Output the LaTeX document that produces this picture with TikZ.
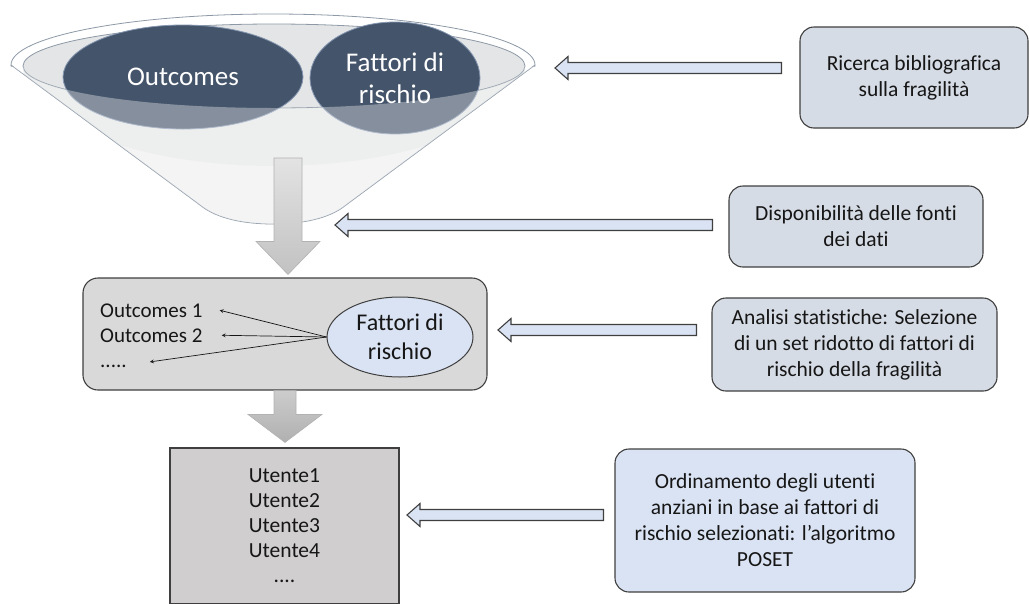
\documentclass[tikz,border=0pt]{standalone}
\usepackage{fontspec}
\setmainfont{Carlito}[Ligatures=NoCommon]
\usepackage{tikz}
\usetikzlibrary{positioning,calc,shapes.geometric}

\definecolor{funnelline}{HTML}{8D99A6}
\definecolor{funnelfill}{HTML}{EFEFF0}
\definecolor{innergrey}{HTML}{E4E5E6}
\definecolor{slate}{HTML}{44546A}
\definecolor{slateedge}{HTML}{8496B0}
\definecolor{boxblue}{HTML}{D6DCE5}
\definecolor{paleblue}{HTML}{DAE3F3}
\definecolor{midgrey}{HTML}{D9D9D9}
\definecolor{rankgrey}{HTML}{D0CECE}
\definecolor{edgegrey}{HTML}{3F3F3F}
\definecolor{textgrey}{HTML}{161616}

\newcommand{\funnelpath}{(11,65) -- (200,205) .. controls (217,219) and (245,224) .. (273,224) .. controls (301,224) and (329,219) .. (346,205) -- (535,65)}

% block arrow pointing left, from the box #1 to the tip #2, gap #3
\newcommand{\feedarrow}[3]{%
  \draw[blockarrow] ($(#2 -| #1.west)+(-#3,-5.5)$) -- ($(#2)+(13,-5.5)$) -- ($(#2)+(13,-11.5)$) -- (#2)
    -- ($(#2)+(13,11.5)$) -- ($(#2)+(13,5.5)$) -- ($(#2 -| #1.west)+(-#3,5.5)$) -- cycle;}

% grey block arrow pointing down: start, tip, shaft half, head half, head length
\newcommand{\downblock}[5]{%
  ($(#1)+(-#3,0)$) -- ($(#2)+(-#3,-#5)$) -- ($(#2)+(-#4,-#5)$) -- (#2)
    -- ($(#2)+(#4,-#5)$) -- ($(#2)+(#3,-#5)$) -- ($(#1)+(#3,0)$) -- cycle}

\tikzset{
  every node/.style={text=textgrey},
  bubble/.style={ellipse, draw=slateedge, line width=0.8pt, fill=slate, text=white,
    inner sep=0pt, align=center, font=\fontsize{27}{32}\selectfont},
  stepnote/.style={draw=edgegrey, line width=1.1pt, rounded corners=14pt, fill=boxblue,
    align=center, inner sep=0pt, font=\fontsize{21.5}{26}\selectfont},
  panel/.style={draw=edgegrey, line width=1.1pt, rounded corners=15pt, fill=midgrey},
  listtext/.style={inner sep=0pt, font=\fontsize{21}{25}\selectfont},
  riskbubble/.style={ellipse, draw=edgegrey, line width=1pt, fill=paleblue, inner sep=0pt,
    align=center, font=\fontsize{24}{29}\selectfont},
  rankbox/.style={draw=edgegrey, line width=1.1pt, fill=rankgrey, inner sep=0pt,
    align=center, font=\fontsize{21.5}{25}\selectfont},
  blockarrow/.style={draw=edgegrey, line width=1.1pt, fill=paleblue},
  downarrow/.style={draw=gray!60, line width=0.6pt},
  thinarrow/.style={->, draw=textgrey, line width=0.7pt}
}

\begin{document}
\begin{tikzpicture}[x=1pt, y=-1pt, >=stealth]
    \useasboundingbox (0,0) rectangle (1029,603);

    % Funnel
    \fill[funnelfill] \funnelpath -- cycle;
    \fill[white] (273,65) ellipse[x radius=262, y radius=51];
    \begin{scope}
      \clip \funnelpath -- cycle;
      \fill[innergrey] (274,66) ellipse[x radius=251, y radius=100];
    \end{scope}
    \fill[innergrey] (274,66) ellipse[x radius=251, y radius=42];
    \begin{scope}
      \clip (0,0) rectangle (560,66);
      \draw[funnelline, line width=0.8pt] (273,65) ellipse[x radius=262, y radius=51];
    \end{scope}
    \draw[funnelline, line width=0.8pt] (274,66) ellipse[x radius=251, y radius=42];
    \draw[funnelline, line width=0.8pt] \funnelpath;

    \node[bubble, minimum width=240pt, minimum height=104pt] (outcomes) at (183,77) {Outcomes};
    \node[bubble, minimum width=170pt, minimum height=112pt] (fattori) at (395,78) {Fattori di\\rischio};

    % glass in front of the funnel
    \begin{scope}
      \clip (0,67) rectangle (560,240);
      \fill[white, opacity=0.35, even odd rule] \funnelpath -- cycle (274,66) ellipse[x radius=251, y radius=42];
    \end{scope}

    % Boxes
    \node[panel, minimum width=404pt, minimum height=112pt] (midbox) at (285,334) {};
    \node[listtext, anchor=base west] (out1) at (100,317) {Outcomes 1};
    \node[listtext, anchor=base west] (out2) at (100,342) {Outcomes 2};
    \node[listtext, anchor=base west] (dots) at (100,367) {.....};
    \node[riskbubble, minimum width=146pt, minimum height=80pt] (risk) at (400,337) {Fattori di\\rischio};

    \node[rankbox, minimum width=229pt, minimum height=156pt] (ranking) at (284.5,526) {Utente1\\Utente2\\Utente3\\Utente4\\....};

    \node[stepnote, minimum width=228pt, minimum height=101pt] (ricerca) at (914,77.5) {Ricerca bibliografica\\sulla fragilità};
    \node[stepnote, minimum width=254pt, minimum height=81pt] (dati) at (856,226.5) {Disponibilità delle fonti\\dei dati};
    \node[stepnote, minimum width=285pt, minimum height=93pt] (analisi) at (854.5,344.5) {Analisi statistiche: Selezione\\di un set ridotto di fattori di\\rischio della fragilità};
    \node[stepnote, fill=paleblue, minimum width=300pt, minimum height=143pt] (poset) at (765,520.5) {Ordinamento degli utenti\\anziani in base ai fattori di\\rischio selezionati: l’algoritmo\\POSET};

    % Arrows
    \coordinate (funnel-out) at (288,158);
    \coordinate (tip-a) at ($(funnel-out |- midbox.north)+(0,-3)$);
    \coordinate (tip-b) at ($(midbox.south |- ranking.north)+(0,-5)$);
    \draw[downarrow, top color=gray!22, bottom color=gray!48] \downblock{funnel-out}{tip-a}{14}{32}{33};
    \draw[downarrow, top color=gray!40, bottom color=gray!62] \downblock{midbox.south}{tip-b}{11}{37}{28};

    \draw[thinarrow] (risk.west) -- ([xshift=17pt]out1.east);
    \draw[thinarrow] (risk.west) -- ([xshift=19pt]out2.east);
    \draw[thinarrow] (risk.west) -- ([xshift=23pt,yshift=4pt]dots.east);

    \coordinate (tip-ricerca) at (555,68);
    \coordinate (tip-dati) at (335,225);
    \coordinate (tip-analisi) at (498,330);
    \coordinate (tip-poset) at (407,515);
    \feedarrow{ricerca}{tip-ricerca}{18}
    \feedarrow{dati}{tip-dati}{16}
    \feedarrow{analisi}{tip-analisi}{15}
    \feedarrow{poset}{tip-poset}{11}
  \end{tikzpicture}
\end{document}
